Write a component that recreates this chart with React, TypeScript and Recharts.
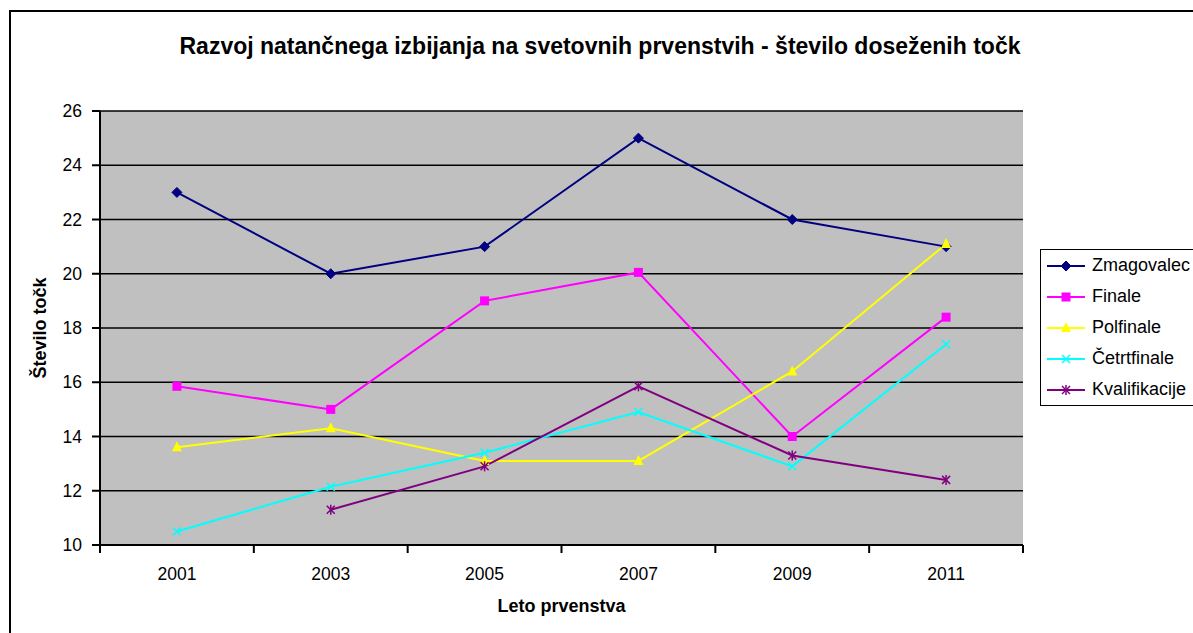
import React from "react";
import {
  LineChart,
  Line,
  XAxis,
  YAxis,
  CartesianGrid,
  Legend,
} from "recharts";

const years = ["2001", "2003", "2005", "2007", "2009", "2011"];
const zmagovalec = [23, 20, 21, 25, 22, 21];
const finale = [15.85, 15, 19, 20.05, 14, 18.4];
const polfinale = [13.6, 14.3, 13.1, 13.1, 16.4, 21.1];
const cetrtfinale = [10.5, 12.15, 13.4, 14.9, 12.9, 17.4];
const kvalifikacije = [null, 11.3, 12.9, 15.85, 13.3, 12.4];
const yTicks = [10, 12, 14, 16, 18, 20, 22, 24, 26];

const W = 1193;
const H = 633;
const M = { top: 111, right: 170, bottom: 58, left: 0 };
const Y_W = 100;
const X_H = 30;
const PLOT_L = M.left + Y_W;
const PLOT_W = W - M.right - PLOT_L;
const AXIS_Y = H - M.bottom - X_H;
const BAND = PLOT_W / years.length;
const FONT = "Arial, 'Liberation Sans', sans-serif";

const data = years.map((y, i) => ({
  year: y,
  zmagovalec: zmagovalec[i],
  finale: finale[i],
  polfinale: polfinale[i],
  cetrtfinale: cetrtfinale[i],
  kvalifikacije: kvalifikacije[i],
}));

type Shape = "diamond" | "square" | "triangle" | "cross" | "star";

function Marker({ cx, cy, shape, color }: { cx: number; cy: number; shape: Shape; color: string }) {
  if (shape === "diamond")
    return <polygon points={`${cx},${cy - 5} ${cx + 5},${cy} ${cx},${cy + 5} ${cx - 5},${cy}`} fill={color} stroke={color} />;
  if (shape === "square")
    return <rect x={cx - 4.5} y={cy - 4.5} width={9} height={9} fill={color} />;
  if (shape === "triangle")
    return <polygon points={`${cx},${cy - 6} ${cx + 5},${cy + 4} ${cx - 5},${cy + 4}`} fill={color} />;
  if (shape === "cross")
    return (
      <g stroke={color} strokeWidth={1.5}>
        <line x1={cx - 4} y1={cy - 4} x2={cx + 4} y2={cy + 4} />
        <line x1={cx - 4} y1={cy + 4} x2={cx + 4} y2={cy - 4} />
      </g>
    );
  return (
    <g stroke={color} strokeWidth={1.5}>
      <line x1={cx - 4} y1={cy - 4} x2={cx + 4} y2={cy + 4} />
      <line x1={cx - 4} y1={cy + 4} x2={cx + 4} y2={cy - 4} />
      <line x1={cx} y1={cy - 5} x2={cx} y2={cy + 5} />
    </g>
  );
}

const series: { key: string; name: string; color: string; shape: Shape }[] = [
  { key: "zmagovalec", name: "Zmagovalec", color: "#000080", shape: "diamond" },
  { key: "finale", name: "Finale", color: "#FF00FF", shape: "square" },
  { key: "polfinale", name: "Polfinale", color: "#FFFF00", shape: "triangle" },
  { key: "cetrtfinale", name: "Četrtfinale", color: "#00FFFF", shape: "cross" },
  { key: "kvalifikacije", name: "Kvalifikacije", color: "#800080", shape: "star" },
];

function XTick(props: any) {
  const { x, payload, index } = props;
  const half = BAND / 2;
  return (
    <g>
      <line x1={x - half} y1={AXIS_Y} x2={x - half} y2={AXIS_Y + 8} stroke="#000" strokeWidth={2} />
      {index === years.length - 1 && (
        <line x1={x + half} y1={AXIS_Y} x2={x + half} y2={AXIS_Y + 8} stroke="#000" strokeWidth={2} />
      )}
      <text x={x} y={AXIS_Y + 35} textAnchor="middle" fontSize={17.5} fontFamily={FONT} fill="#000">
        {payload.value}
      </text>
    </g>
  );
}

function XTitle() {
  return (
    <text
      x={PLOT_L + PLOT_W / 2}
      y={612}
      textAnchor="middle"
      fontSize={18}
      fontWeight="bold"
      fontFamily={FONT}
      fill="#000"
    >
      Leto prvenstva
    </text>
  );
}

function YTitle() {
  const cy = AXIS_Y - (AXIS_Y - M.top) / 2;
  return (
    <text
      x={40}
      y={cy}
      transform={`rotate(-90 40 ${cy})`}
      textAnchor="middle"
      dominantBaseline="central"
      fontSize={18}
      fontWeight="bold"
      fontFamily={FONT}
      fill="#000"
    >
      Število točk
    </text>
  );
}

function LegendBox() {
  return (
    <div
      style={{
        border: "1px solid #000",
        background: "#fff",
        padding: "0 6px",
        width: 170,
        fontFamily: FONT,
        fontSize: 18,
      }}
    >
      {series.map((s) => (
        <div key={s.key} style={{ display: "flex", alignItems: "center", height: 31, whiteSpace: "nowrap" }}>
          <svg width={38} height={14}>
            <line x1={0} y1={7} x2={38} y2={7} stroke={s.color} strokeWidth={2} />
            <Marker cx={19} cy={7} shape={s.shape} color={s.color} />
          </svg>
          <span style={{ marginLeft: 7 }}>{s.name}</span>
        </div>
      ))}
    </div>
  );
}

export default function App() {
  return (
    <div style={{ position: "absolute", left: 0, top: 0, width: W, height: H, overflow: "hidden", background: "#fff" }}>
      <div
        style={{
          position: "absolute",
          left: 9,
          top: 10,
          width: 1300,
          height: 700,
          border: "2px solid #000",
        }}
      />
      <div
        style={{
          position: "absolute",
          left: 0,
          top: 34,
          width: 1200,
          textAlign: "center",
          fontFamily: FONT,
          fontWeight: "bold",
          fontSize: 23,
          lineHeight: "24px",
        }}
      >
        Razvoj natančnega izbijanja na svetovnih prvenstvih - število doseženih točk
      </div>
      <div style={{ position: "absolute", left: 0, top: 0 }}>
        <LineChart width={W} height={H} data={data} margin={M}>
          <CartesianGrid vertical={false} fill="#C0C0C0" stroke="#000" strokeWidth={1.5} fillOpacity={1} />
          <XAxis
            dataKey="year"
            scale="band"
            height={X_H}
            tickLine={false}
            axisLine={{ stroke: "#000", strokeWidth: 2 }}
            tick={<XTick />}
            interval={0}
            label={<XTitle />}
          />
          <YAxis
            width={Y_W}
            domain={[10, 26]}
            ticks={yTicks}
            interval={0}
            tickSize={8}
            tickMargin={10}
            tickLine={{ stroke: "#000", strokeWidth: 2 }}
            axisLine={{ stroke: "#000", strokeWidth: 2 }}
            tick={{ fill: "#000", fontSize: 17.5, fontFamily: FONT }}
            label={<YTitle />}
          />
          <YAxis
            yAxisId="r"
            orientation="right"
            width={0}
            domain={[10, 26]}
            tick={false}
            tickLine={false}
            axisLine={{ stroke: "#808080", strokeWidth: 2 }}
          />
          {series.map((s) => (
            <Line
              key={s.key}
              dataKey={s.key}
              name={s.name}
              stroke={s.color}
              strokeWidth={2}
              isAnimationActive={false}
              dot={(p: any) =>
                p.cy == null || p.value == null ? (
                  <g key={`${s.key}-${p.index}`} />
                ) : (
                  <Marker key={`${s.key}-${p.index}`} cx={p.cx} cy={p.cy} shape={s.shape} color={s.color} />
                )
              }
              activeDot={false}
            />
          ))}
          <Legend
            layout="vertical"
            align="center"
            verticalAlign="middle"
            content={<LegendBox />}
            wrapperStyle={{ left: 1040, top: 249, width: 200 }}
          />
        </LineChart>
      </div>
    </div>
  );
}
